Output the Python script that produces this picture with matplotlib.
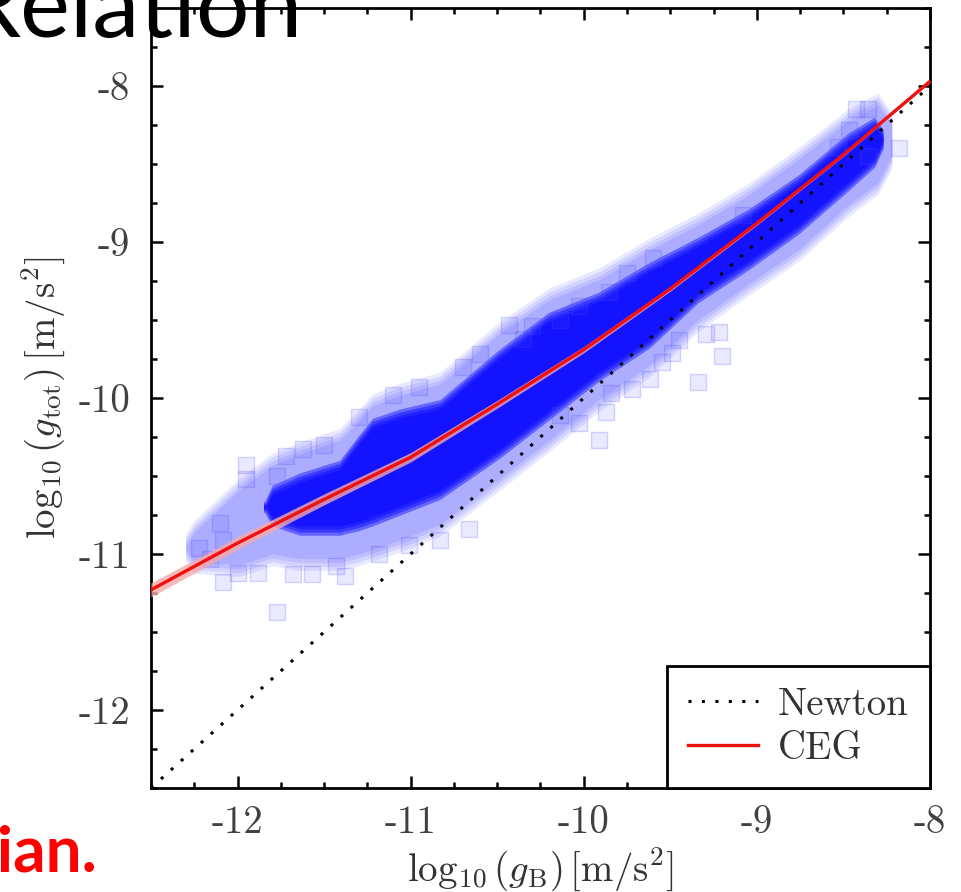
import matplotlib
matplotlib.use('Agg')
import matplotlib.pyplot as plt
from matplotlib.ticker import MultipleLocator, FixedLocator, FixedFormatter

plt.rcParams['font.family'] = 'cmr10'
plt.rcParams['mathtext.fontset'] = 'cm'
plt.rcParams['axes.unicode_minus'] = False

# CEG prediction and its uncertainty
ceg_x = [-12.5, -12.0, -11.5, -11.0, -10.5, -10.0, -9.5, -9.0, -8.5, -8.0]
ceg_y = [-11.23, -10.93, -10.65, -10.38, -10.04, -9.69, -9.30, -8.88, -8.44, -7.97]
ceg_err = [0.045, 0.04, 0.035, 0.03, 0.025, 0.02, 0.015, 0.012, 0.01, 0.008]

# Newtonian expectation g_tot = g_B
newton_x = [-12.5, -8.0]
newton_y = [-12.5, -8.0]

# observed points: outer (sparse) envelope of the cloud
halo_x = [-12.30, -12.25, -11.99, -11.80, -11.64, -11.41, -11.30, -11.22, -11.06, -10.83,
          -10.49, -10.20, -9.91, -9.62, -9.34, -9.05, -8.76, -8.47, -8.30, -8.22]
halo_lo = [-10.97, -11.05, -11.07, -11.00, -11.03, -11.03, -11.00, -10.97, -10.91, -10.81,
           -10.52, -10.27, -10.01, -9.79, -9.50, -9.27, -9.05, -8.76, -8.62, -8.45]
halo_hi = [-10.95, -10.86, -10.59, -10.43, -10.36, -10.27, -10.15, -10.05, -9.98, -9.91,
           -9.59, -9.37, -9.24, -9.05, -8.89, -8.70, -8.47, -8.22, -8.12, -8.25]

# dense core of the cloud
core_x = [-11.85, -11.80, -11.64, -11.41, -11.30, -11.22, -11.06, -10.83, -10.49, -10.20,
          -9.91, -9.62, -9.34, -9.05, -8.76, -8.47, -8.32, -8.27]
core_lo = [-10.72, -10.82, -10.88, -10.88, -10.85, -10.82, -10.75, -10.65, -10.39, -10.14,
           -9.89, -9.68, -9.39, -9.18, -8.95, -8.67, -8.52, -8.40]
core_hi = [-10.68, -10.56, -10.48, -10.40, -10.24, -10.13, -10.07, -10.01, -9.69, -9.45,
           -9.32, -9.13, -8.97, -8.79, -8.57, -8.30, -8.20, -8.28]

# isolated data points
pts_x = [-11.95, -11.95, -11.77, -11.72, -12.085, -12.085, -12.00, -11.88, -11.77,
         -11.68, -11.57, -11.43, -12.22, -12.16, -11.38, -11.18, -11.01, -10.83,
         -10.66, -10.30, -10.03, -9.855, -10.14, -10.43, -9.84, -9.72, -9.62,
         -9.55, -9.49, -9.45, -9.87, -10.03, -9.91, -9.34, -9.20, -9.22, -9.295,
         -10.14, -8.43, -8.36, -8.47, -8.53, -8.36, -8.18, -9.08, -11.30, -11.10,
         -10.95, -10.70, -10.60, -10.35, -12.10, -11.62, -11.50, -9.75, -9.60]
pts_y = [-10.43, -10.52, -10.50, -10.37, -10.91, -11.18, -11.12, -11.12, -11.37,
         -11.13, -11.13, -11.08, -10.96, -11.03, -11.14, -11.00, -10.94, -10.91,
         -10.84, -9.54, -9.41, -9.32, -9.50, -9.53, -9.965, -9.945, -9.88,
         -9.77, -9.71, -9.625, -10.09, -10.16, -10.27, -9.90, -9.73, -9.58, -9.59,
         -10.11, -8.15, -8.15, -8.28, -8.39, -8.45, -8.40, -8.83, -10.12, -9.98,
         -9.93, -9.80, -9.72, -9.62, -10.80, -10.33, -10.30, -9.20, -9.10]

xticks = [-12, -11, -10, -9, -8]
yticks = [-12, -11, -10, -9, -8]

fig = plt.figure(figsize=(9.61, 8.92), dpi=100)
ax = fig.add_axes([0.1571, 0.1166, 0.8106, 0.8744])

blue = '#0000ff'
# soft-edged cloud: each envelope drawn a few times with a small vertical spread
for d in (0.0, 0.025, 0.05, 0.075):
    ax.fill_between(halo_x, [v - d for v in halo_lo], [v + d for v in halo_hi],
                    color=blue, alpha=0.09, lw=0, zorder=1)
for d in (0.0, 0.02, 0.04, 0.06):
    ax.fill_between(core_x, [v + 0.06 - d for v in core_lo], [v - 0.06 + d for v in core_hi],
                    color=blue, alpha=0.42, lw=0, zorder=1)
ax.scatter(pts_x, pts_y, marker='s', s=130, facecolor=(0.3, 0.3, 1.0, 0.12),
           edgecolor=(0.3, 0.3, 1.0, 0.22), lw=1, zorder=2)

ax.plot(newton_x, newton_y, color='black', lw=2.2, linestyle=(0, (1, 3.4)),
        label='Newton', zorder=3)
lo = [y - e for y, e in zip(ceg_y, ceg_err)]
hi = [y + e for y, e in zip(ceg_y, ceg_err)]
ax.fill_between(ceg_x, lo, hi, color='#f7a8a8', alpha=0.8, lw=0, zorder=3)
ax.plot(ceg_x, ceg_y, color='#f01010', lw=2.4, label='CEG', zorder=4)

ax.set_xlim(-12.5, -8.0)
ax.set_ylim(-12.5, -7.5)
ax.xaxis.set_major_locator(FixedLocator(xticks))
ax.xaxis.set_major_formatter(FixedFormatter([str(t) for t in xticks]))
ax.yaxis.set_major_locator(FixedLocator(yticks))
ax.yaxis.set_major_formatter(FixedFormatter([str(t) for t in yticks]))
ax.xaxis.set_minor_locator(MultipleLocator(0.25))
ax.yaxis.set_minor_locator(MultipleLocator(0.25))
ax.tick_params(which='both', direction='in', top=True, right=True, width=1.8,
               labelsize=28, labelcolor='#404040')
ax.tick_params(which='major', length=8.5)
ax.tick_params(which='minor', length=4.3)
ax.tick_params(axis='x', pad=12)
ax.tick_params(axis='y', pad=15)
for s in ax.spines.values():
    s.set_linewidth(2)

ax.set_xlabel(r'$\log_{10}(g_{\rm B})\,[{\rm m/s^2}]$', fontsize=28, color='#333333', labelpad=4)
ax.set_ylabel(r'$\log_{10}(g_{\rm tot})\,[{\rm m/s^2}]$', fontsize=28, color='#333333', labelpad=8)

leg = ax.legend(loc='lower right', fontsize=28, frameon=True, fancybox=False,
                edgecolor='black', framealpha=1, borderaxespad=0, handlelength=1.8,
                handletextpad=0.5, labelspacing=0.2, borderpad=0.55)
leg.get_frame().set_linewidth(2)
for t in leg.get_texts():
    t.set_color('#333333')

# slide text around the figure
fig.text(303 / 961, 1 - 37 / 892, 'Relation', fontsize=68, family='Lato',
         ha='right', va='baseline', color='black', zorder=10)
fig.text(97 / 961, 1 - 872 / 892, 'Gaussian.', fontsize=46, family='Lato',
         fontweight='bold', ha='right', va='baseline', color='#ff0000', zorder=10)

fig.savefig('out.png', dpi=100)
